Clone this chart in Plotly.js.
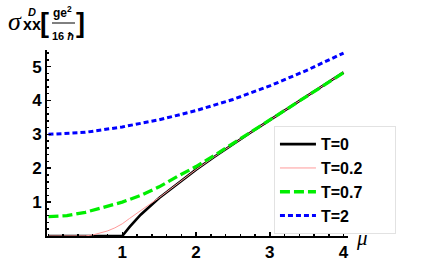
<!DOCTYPE html>
<html>
<head>
<meta charset="utf-8">
<script src="https://cdn.plot.ly/plotly-3.0.1.min.js"></script>
<style>html,body{margin:0;padding:0;background:#fff;}#chart{width:436px;height:272px;}</style>
</head>
<body>
<div id="chart"></div>
<script>
// values
const legendNames = ["T=0", "T=0.2", "T=0.7", "T=2"];

const muT0 = [0, 1, 1.1, 1.25, 1.5, 1.75, 2, 2.25, 2.5, 2.75, 3, 3.25, 3.5, 3.75, 4];
const sigT0 = [0, 0, 0.27, 0.63, 1.12, 1.55, 1.96, 2.34, 2.71, 3.07, 3.42, 3.78, 4.13, 4.48, 4.83];

const muT02 = [0, 0.4, 0.5, 0.6, 0.7, 0.8, 0.9, 1.0, 1.1, 1.2, 1.3, 1.4, 1.5, 1.75, 2, 2.25, 2.5, 2.75, 3, 3.25, 3.5, 3.75, 4];
const sigT02 = [0, 0, 0.005, 0.03, 0.08, 0.15, 0.24, 0.36, 0.52, 0.68, 0.83, 0.98, 1.13, 1.55, 1.96, 2.34, 2.71, 3.07, 3.42, 3.78, 4.13, 4.48, 4.83];

const muT07 = [0, 0.25, 0.5, 0.75, 1, 1.25, 1.5, 1.75, 2, 2.25, 2.5, 2.75, 3, 3.25, 3.5, 3.75, 4];
const sigT07 = [0.57, 0.6, 0.7, 0.84, 1.0, 1.2, 1.45, 1.76, 2.05, 2.38, 2.73, 3.08, 3.43, 3.78, 4.13, 4.48, 4.82];

const muT2 = [0, 0.5, 1, 1.5, 2, 2.5, 3, 3.5, 4];
const sigT2 = [3.0, 3.06, 3.22, 3.43, 3.7, 4.03, 4.43, 4.89, 5.4];

const xTicks = [1, 2, 3, 4];
const yTicks = [1, 2, 3, 4, 5];

const pad = "&nbsp;&nbsp;&nbsp;&nbsp;&nbsp;&nbsp;\u200b";
const traces = [
  {x: muT0, y: sigT0, name: legendNames[0] + pad, mode: "lines", line: {color: "#000000", width: 2.6}},
  {x: muT02, y: sigT02, name: legendNames[1] + pad, mode: "lines", line: {color: "#ff9a9a", width: 1}},
  {x: muT07, y: sigT07, name: legendNames[2] + pad, mode: "lines", line: {color: "#00ee00", width: 3.3, dash: "10px,4px"}},
  {x: muT2, y: sigT2, name: legendNames[3] + pad, mode: "lines", line: {color: "#0000ff", width: 3, dash: "5px,3px"}}
];

const tickFont = {family: "Liberation Sans, Arial, sans-serif", size: 17, color: "#000", weight: "bold"};

// pixel helper relative to plot origin (paper 0,1) for title pieces
const L = 47, T = 50;
function ann(text, px, py, size, opts) {
  return Object.assign({
    text: text, xref: "paper", yref: "paper", x: 0, y: 1,
    xshift: px - L, yshift: T - py, xanchor: "center", yanchor: "middle",
    showarrow: false, borderpad: 0,
    font: {family: "Liberation Sans, Arial, sans-serif", size: size, color: "#000", weight: "bold"}
  }, opts || {});
}

const layout = {
  width: 436, height: 272,
  margin: {l: 47, r: 88, t: 50, b: 36, pad: 0},
  paper_bgcolor: "#fff", plot_bgcolor: "#fff",
  showlegend: true,
  legend: {
    x: 0.754, y: 0.59, xanchor: "left", yanchor: "top",
    bordercolor: "#e2e2e2", borderwidth: 1, bgcolor: "#fff",
    font: {family: "Liberation Sans, Arial, sans-serif", size: 16, color: "#000", weight: "bold"},
    itemwidth: 36, tracegroupgap: 0
  },
  xaxis: {
    range: [-0.02, 4.06], showgrid: false, zeroline: false,
    showline: true, linecolor: "#000", linewidth: 2,
    tickvals: xTicks, ticktext: xTicks.map(String),
    ticks: "inside", ticklen: 4, tickwidth: 1.5, tickcolor: "#000",
    minor: {ticks: "inside", dtick: 0.2, ticklen: 2, tickwidth: 1.5, tickcolor: "#000", showgrid: false},
    tickfont: tickFont, fixedrange: true
  },
  yaxis: {
    range: [0, 5.49], showgrid: false, zeroline: false,
    showline: true, linecolor: "#000", linewidth: 2,
    tickvals: yTicks, ticktext: yTicks.map(String),
    ticks: "inside", ticklen: 4, tickwidth: 1.5, tickcolor: "#000",
    minor: {ticks: "inside", dtick: 0.2, ticklen: 2, tickwidth: 1.5, tickcolor: "#000", showgrid: false},
    tickfont: tickFont, fixedrange: true
  },
  annotations: [
    ann("σ", 14.5, 21, 26, {font: {family: "Liberation Serif, Times New Roman, serif", size: 26, color: "#000", style: "italic"}}),
    ann("D", 32, 11.5, 11, {height: 9, font: {family: "Liberation Sans, Arial, sans-serif", size: 11, color: "#000", weight: "bold", style: "italic"}}),
    ann("xx", 31.5, 24.5, 16, {height: 11}),
    ann("[", 44.5, 22.5, 27),
    ann("ge<sup>2</sup>", 62.5, 12, 12),
    ann("16 <i>ħ</i>", 63, 35.5, 11),
    ann("]", 80, 22.5, 27),
    ann("μ", 362, 238, 21, {font: {family: "Liberation Serif, Times New Roman, serif", size: 21, color: "#000", style: "italic"}})
  ],
  shapes: [
    {type: "line", xref: "paper", yref: "paper",
     x0: (52 - L) / 301, x1: (75 - L) / 301, y0: (236 - 23) / 186, y1: (236 - 23) / 186,
     line: {color: "#000", width: 1}}
  ]
};

Plotly.newPlot("chart", traces, layout, {displayModeBar: false, staticPlot: true});
</script>
</body>
</html>
